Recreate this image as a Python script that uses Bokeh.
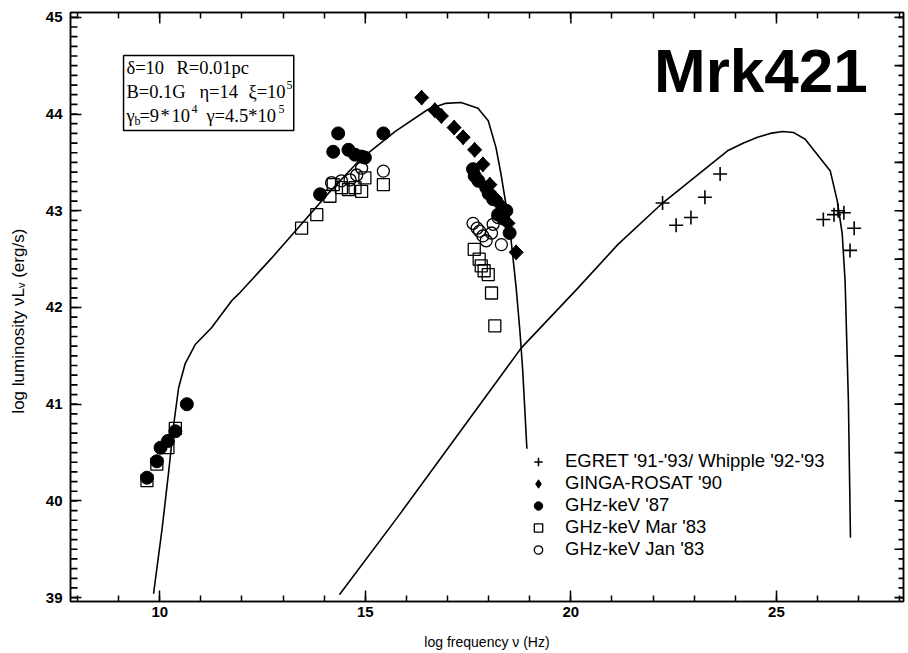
import numpy as np
from bokeh.plotting import figure
from bokeh.models import (Range1d, FixedTicker, LinearAxis, Label, BoxAnnotation,
                          Legend, LegendItem)
from bokeh.embed import file_html
from bokeh.resources import INLINE

# ---- model curves (log nu, log nuL_nu) ----
sync_x = [9.85, 10.06, 10.22, 10.34, 10.46, 10.62, 10.87, 11.26, 11.75, 11.92, 12.72,
          13.30, 14.10, 14.90, 15.73, 16.53, 16.94, 17.33, 17.74, 17.99, 18.18, 18.30,
          18.42, 18.54, 18.67, 18.76, 18.83, 18.93]
sync_y = [39.04, 39.72, 40.31, 40.79, 41.17, 41.42, 41.62, 41.79, 42.07, 42.14, 42.51,
          42.79, 43.18, 43.54, 43.82, 44.05, 44.11, 44.12, 44.06, 43.93, 43.65, 43.38,
          43.07, 42.72, 42.20, 41.76, 41.34, 40.54]

ssc_x = [14.37, 15.80, 17.26, 18.79, 20.17, 21.14, 22.23, 23.81, 24.20, 24.54, 24.85,
         25.15, 25.41, 25.70, 25.92, 26.31, 26.48, 26.60, 26.67, 26.75, 26.80]
ssc_y = [39.03, 39.84, 40.69, 41.58, 42.20, 42.65, 43.08, 43.62, 43.70, 43.76, 43.80,
         43.82, 43.81, 43.74, 43.62, 43.41, 43.10, 42.76, 42.27, 41.03, 39.62]

# ---- observations ----
egret_x = [22.23, 22.56, 22.92, 23.26, 23.63, 26.14, 26.40, 26.50, 26.64, 26.89, 26.79]
egret_y = [43.08, 42.85, 42.93, 43.14, 43.38, 42.91, 42.96, 43.00, 42.98, 42.82, 42.59]

ginga_x = [16.37, 16.69, 16.85, 17.16, 17.38, 17.66, 17.86, 18.03, 18.16, 18.31, 18.47, 18.67]
ginga_y = [44.17, 44.04, 43.98, 43.86, 43.76, 43.63, 43.48, 43.27, 43.13, 43.05, 42.87, 42.57]

ghz87_x = [9.69, 9.93, 10.02, 10.20, 10.38, 10.66, 13.90, 14.34, 14.22, 14.59, 14.75,
           14.91, 14.99, 15.44, 17.62, 17.66, 17.75, 17.94, 18.00, 18.11, 18.23, 18.35,
           18.43, 18.51]
ghz87_y = [40.24, 40.41, 40.55, 40.62, 40.72, 41.00, 43.17, 43.80, 43.61, 43.63, 43.58,
           43.56, 43.55, 43.80, 43.43, 43.36, 43.31, 43.24, 43.18, 43.12, 42.96, 42.92,
           43.00, 42.77]

mar83_x = [9.69, 9.93, 10.20, 10.38, 13.45, 13.82, 14.14, 14.22, 14.42, 14.59, 14.75,
           14.91, 14.99, 15.44, 17.65, 17.77, 17.82, 17.89, 17.99, 18.07, 18.15]
mar83_y = [40.21, 40.38, 40.55, 40.75, 42.82, 42.96, 43.15, 43.27, 43.24, 43.22, 43.24,
           43.20, 43.34, 43.27, 42.60, 42.50, 42.43, 42.38, 42.34, 42.15, 41.81]

jan83_x = [14.18, 14.42, 14.63, 14.79, 14.91, 15.44, 17.62, 17.72, 17.78, 17.86, 17.94,
           18.07, 18.11, 18.23, 18.31]
jan83_y = [43.29, 43.31, 43.32, 43.37, 43.44, 43.41, 42.87, 42.82, 42.79, 42.74, 42.69,
           42.77, 42.86, 42.93, 42.65]

x_major = [10, 15, 20, 25]
x_minor = list(range(8, 29))
y_major = [39, 40, 41, 42, 43, 44, 45]
y_half = [39 + 0.5 * i for i in range(13)]
y_minor = [round(39 + 0.1 * i, 1) for i in range(61)]

SANS = "Liberation Sans"
SERIF = "Liberation Serif"

W, H = 908, 653
BL, BR, BT, BB = 70, 5, 12, 52
X0, X1 = 7.83, 28.09
Y0, Y1 = 38.96, 45.05

p = figure(width=W, height=H, output_backend="svg", toolbar_location=None,
           x_range=Range1d(X0, X1), y_range=Range1d(Y0, Y1),
           min_border_left=BL, min_border_right=BR, min_border_top=BT,
           min_border_bottom=BB, background_fill_color="white",
           border_fill_color="white")
p.xgrid.visible = False
p.ygrid.visible = False
p.outline_line_color = "black"
p.outline_line_width = 1.5

# data units per screen pixel (frame is W-BL-BR by H-BT-BB pixels)
dx_px = (X1 - X0) / (W - BL - BR)
dy_px = (Y1 - Y0) / (H - BT - BB)


def style_axis(ax, ticker, major_in=10, minor_in=5):
    ax.ticker = ticker
    ax.axis_line_width = 1.5
    ax.axis_line_color = "black"
    ax.major_tick_in = major_in
    ax.major_tick_out = 0
    ax.minor_tick_in = minor_in
    ax.minor_tick_out = 0
    ax.major_tick_line_width = 1.5
    ax.minor_tick_line_width = 1.5
    ax.major_tick_line_color = "black"
    ax.minor_tick_line_color = "black"
    ax.major_label_text_font = SANS
    ax.major_label_text_font_size = "15px"
    ax.major_label_text_font_style = "bold"
    ax.major_label_text_color = "black"
    ax.axis_label_text_font = SANS
    ax.axis_label_text_font_style = "normal"
    ax.axis_label_text_color = "black"


xb = p.xaxis[0]
style_axis(xb, FixedTicker(ticks=x_major, minor_ticks=x_minor), major_in=11, minor_in=6)
xb.major_label_standoff = 5
xb.axis_label = "log frequency ν (Hz)"
xb.axis_label_text_font_size = "14px"
xb.axis_label_standoff = 14

yl = p.yaxis[0]
style_axis(yl, FixedTicker(ticks=y_major, minor_ticks=[]), major_in=11, minor_in=0)
yl.major_label_standoff = 8
yl.major_label_orientation = "horizontal"
# trailing no-break spaces push the visible title a little below the frame centre
yl.axis_label = "log luminosity νL\u1d65 (erg/s)" + "\u00a0" * 6
yl.axis_label_text_font_size = "17px"
yl.axis_label_standoff = 15

# top and right frame axes: no labels
xt = LinearAxis()
style_axis(xt, FixedTicker(ticks=[], minor_ticks=x_minor), major_in=0, minor_in=6)
p.add_layout(xt, "above")

yr = LinearAxis()
style_axis(yr, FixedTicker(ticks=[], minor_ticks=[]), major_in=0, minor_in=0)
p.add_layout(yr, "right")


def side_ticks(ys, side, length):
    """Horizontal tick marks pointing into the frame from the left or right edge."""
    edge = X0 + 0.5 * length * dx_px if side == "left" else X1 - 0.5 * length * dx_px
    p.scatter(x=[edge] * len(ys), y=ys, marker="dash", size=length,
              line_color="black", line_width=1.7)


side_ticks(y_minor, "left", 7)
side_ticks(y_minor, "right", 5)
side_ticks(y_half, "right", 9)
# longer ticks on the top edge every five decades
p.segment(x0=x_major, y0=[Y1] * len(x_major), x1=x_major,
          y1=[Y1 - 11 * dy_px] * len(x_major), line_color="black", line_width=1.5)

# model curves
p.line(sync_x, sync_y, line_color="black", line_width=1.6)
p.line(ssc_x, ssc_y, line_color="black", line_width=1.6)

# data
r_egret = p.scatter(egret_x, egret_y, marker="cross", size=14, line_color="black", line_width=1.6)
r_ginga = p.scatter(ginga_x, ginga_y, marker="diamond", size=15, fill_color="black",
                    line_color="black")
p.scatter(ginga_x, ginga_y, marker="square", size=10, angle=np.pi / 4,
          fill_color="black", line_color="black")
r_87 = p.scatter(ghz87_x, ghz87_y, marker="circle", size=13, fill_color="black", line_color="black")
r_mar = p.scatter(mar83_x, mar83_y, marker="square", size=12, fill_color=None,
                  line_color="black", line_width=1.3)
r_jan = p.scatter(jan83_x, jan83_y, marker="circle", size=12, fill_color=None,
                  line_color="black", line_width=1.3)

legend = Legend(items=[
    LegendItem(label="EGRET '91-'93/ Whipple '92-'93", renderers=[r_egret]),
    LegendItem(label="GINGA-ROSAT '90", renderers=[r_ginga]),
    LegendItem(label="GHz-keV '87", renderers=[r_87]),
    LegendItem(label="GHz-keV Mar '83", renderers=[r_mar]),
    LegendItem(label="GHz-keV Jan '83", renderers=[r_jan]),
], location=(457, 41))
legend.border_line_alpha = 0
legend.background_fill_alpha = 0
legend.label_text_font = SANS
legend.label_text_font_size = "18.5px"
legend.label_text_color = "black"
legend.glyph_width = 22
legend.glyph_height = 21
legend.label_height = 21
legend.label_standoff = 16
legend.spacing = 0
legend.padding = 0
legend.margin = 0
p.add_layout(legend)


def text(x, y, s, font=SERIF, size="18.5px", dx=0, dy=0, align="left", style="normal"):
    p.add_layout(Label(x=x, y=y, x_offset=dx, y_offset=dy, text=s,
                       text_font=font, text_font_size=size, text_font_style=style,
                       text_align=align, text_baseline="alphabetic", text_color="black"))


# parameter box
p.add_layout(BoxAnnotation(left=9.12, right=13.26, top=44.605, bottom=43.83,
                           fill_alpha=0, line_color="black", line_alpha=1, line_width=1.5))

TX = 9.19
text(TX, 44.471, "δ=10")
text(TX, 44.471, "R=0.01pc", dx=50)
text(TX, 44.233, "B=0.1G")
text(TX, 44.233, "η=14", dx=73)
text(TX, 44.233, "ξ=10", dx=122)
text(TX, 44.233, "5", size="12px", dx=160, dy=7)
text(TX, 43.985, "γ")
text(TX, 43.985, "b", size="12px", dx=8, dy=-5)
text(TX, 43.985, "=9", dx=13)
text(TX, 43.985, "*", dx=34)
text(TX, 43.985, "10", dx=45)
text(TX, 43.985, "4", size="12px", dx=65, dy=7)
text(TX, 43.985, "γ=4.5*10", dx=80)
text(TX, 43.985, "5", size="12px", dx=152, dy=7)

# source name
text(27.22, 44.45, "Mrk421", font=SANS, size="62px", style="bold", align="right")

open("out.html", "w").write(file_html(p, INLINE))
